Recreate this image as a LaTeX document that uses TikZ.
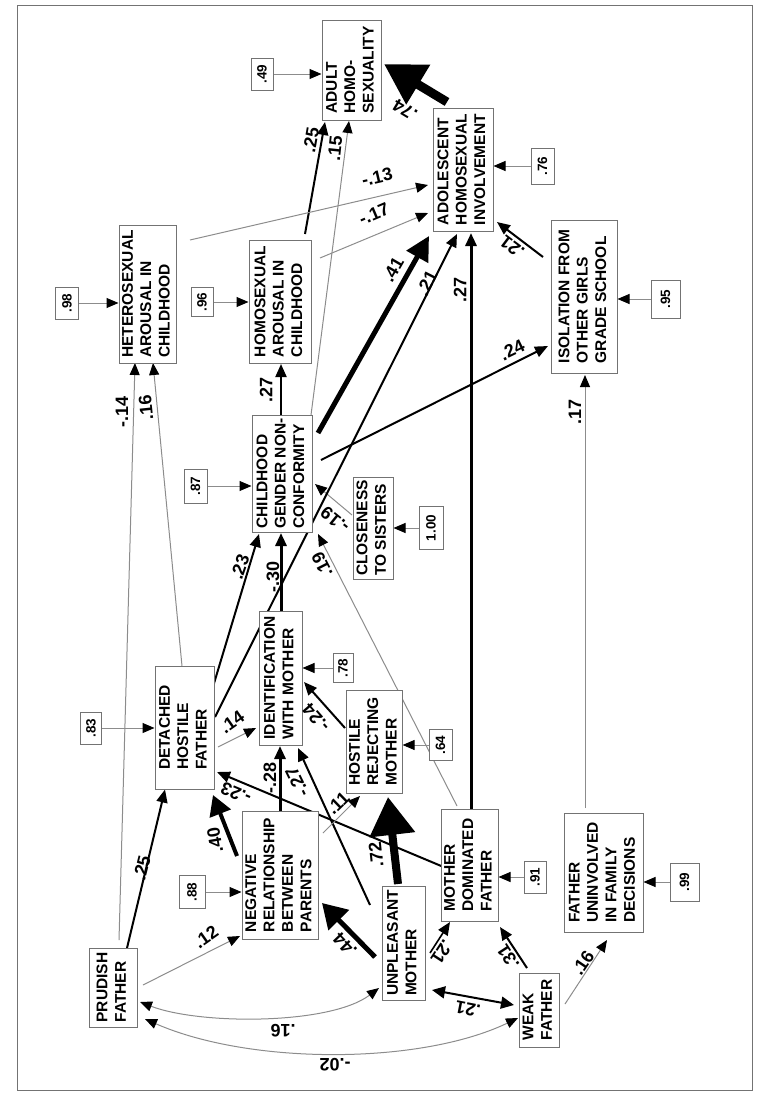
\documentclass[tikz,border=0pt]{standalone}
\usepackage{fontspec}
\setmainfont{Liberation Sans}
\usepackage{graphicx}
\usetikzlibrary{arrows.meta,calc}
\pgfdeclarelayer{bg}
\pgfsetlayers{bg,main}
\definecolor{boxgray}{gray}{0.45}
\definecolor{linegray}{gray}{0.55}
\newcommand{\rtxt}[1]{\rotatebox{90}{\begin{tabular}{@{}l@{}}#1\end{tabular}}}
\tikzset{
  box/.style={draw=boxgray, line width=0.5pt, fill=white, inner sep=0pt,
    font=\fontsize{7.75}{9.2}\selectfont\bfseries},
  errbox/.style={draw=boxgray, line width=0.5pt, fill=white, inner sep=0pt,
    font=\fontsize{6.75}{8}\selectfont\bfseries},
  lab/.style={font=\fontsize{9}{10}\selectfont\bfseries, inner sep=0pt},
  gline/.style={draw=linegray, line width=0.5pt, -{Triangle[length=6pt,width=5pt,color=black]}},
  gdouble/.style={draw=linegray, line width=0.5pt, {Triangle[length=6pt,width=5pt,color=black]}-{Triangle[length=6pt,width=5pt,color=black]}},
  bline/.style={draw=black, line width=1pt, -{Triangle[length=6.5pt,width=5.5pt]}},
  bdouble/.style={draw=black, line width=1pt, {Triangle[length=6.5pt,width=6pt]}-{Triangle[length=6.5pt,width=6pt]}},
}
\begin{document}
\begin{tikzpicture}[x=0.5pt,y=-0.5pt]
\useasboundingbox (0,0) rectangle (767,1098);
\draw[boxgray, line width=0.5pt] (17,5) rectangle (752,1090);

% main boxes
\node[box, minimum width=24pt, minimum height=39.5pt] (pf) at (113,987.5) {\rtxt{PRUDISH\\FATHER}};
\node[box, minimum width=38pt, minimum height=64pt] (nr) at (280,875) {\rtxt{NEGATIVE\\RELATIONSHIP\\BETWEEN\\PARENTS}};
\node[box, minimum width=21.5pt, minimum height=57pt] (um) at (403.5,943) {\rtxt{UNPLEASANT\\MOTHER}};
\node[box, minimum width=28.5pt, minimum height=56pt] (mdf) at (469.5,865) {\rtxt{MOTHER\\DOMINATED\\FATHER}};
\node[box, minimum width=20pt, minimum height=37pt] (wf) at (539,1010) {\rtxt{WEAK\\FATHER}};
\node[box, minimum width=39.5pt, minimum height=59.5pt] (fu) at (603.5,872.5) {\rtxt{FATHER\\UNINVOLVED\\IN FAMILY\\DECISIONS}};
\node[box, minimum width=29.5pt, minimum height=61.5pt] (dhf) at (184.5,727.5) {\rtxt{DETACHED\\HOSTILE\\FATHER}};
\node[box, minimum width=21.5pt, minimum height=67pt] (idm) at (280.5,678) {\rtxt{IDENTIFICATION\\WITH MOTHER}};
\node[box, minimum width=27.5pt, minimum height=51.5pt] (hrm) at (374.5,741.5) {\rtxt{HOSTILE\\REJECTING\\MOTHER}};
\node[box, minimum width=30pt, minimum height=58.5pt] (cgn) at (282,473.5) {\rtxt{CHILDHOOD\\GENDER NON-\\CONFORMITY}};
\node[box, minimum width=20pt, minimum height=51pt] (cs) at (373,528) {\rtxt{CLOSENESS\\TO SISTERS}};
\node[box, minimum width=28.5pt, minimum height=69pt] (ha) at (147.5,294) {\rtxt{HETEROSEXUAL\\AROUSAL IN\\CHILDHOOD}};
\node[box, minimum width=31pt, minimum height=61.5pt] (hoa) at (280,301.5) {\rtxt{HOMOSEXUAL\\AROUSAL IN\\CHILDHOOD}};
\node[box, minimum width=29.5pt, minimum height=50pt] (ah) at (351.5,70) {\rtxt{ADULT\\HOMO-\\SEXUALITY}};
\node[box, minimum width=30pt, minimum height=61.5pt] (ahi) at (463,169.5) {\rtxt{ADOLESCENT\\HOMOSEXUAL\\INVOLVEMENT}};
\node[box, minimum width=33pt, minimum height=76.5pt] (iso) at (584,296.5) {\rtxt{ISOLATION FROM\\OTHER GIRLS\\GRADE SCHOOL}};

% error boxes
\node[errbox, minimum width=10.5pt, minimum height=16pt] (e83) at (91,728) {\rotatebox{90}{.83}};
\node[errbox, minimum width=13pt, minimum height=16.5pt] (e88) at (192,892) {\rotatebox{90}{.88}};
\node[errbox, minimum width=11.5pt, minimum height=17pt] (e87) at (195.5,486) {\rotatebox{90}{.87}};
\node[errbox, minimum width=11.5pt, minimum height=16pt] (e98) at (67,303) {\rotatebox{90}{.98}};
\node[errbox, minimum width=11pt, minimum height=14.5pt] (e96) at (202,302) {\rotatebox{90}{.96}};
\node[errbox, minimum width=11pt, minimum height=16pt] (e49) at (262,74) {\rotatebox{90}{.49}};
\node[errbox, minimum width=11.5pt, minimum height=18pt] (e76) at (542.5,166) {\rotatebox{90}{.76}};
\node[errbox, minimum width=14.5pt, minimum height=19pt] (e95) at (665.5,299) {\rotatebox{90}{.95}};
\node[errbox, minimum width=10pt, minimum height=14.5pt] (e78) at (343,668) {\rotatebox{90}{.78}};
\node[errbox, minimum width=11.5pt, minimum height=15.5pt] (e64) at (440.5,745) {\rotatebox{90}{.64}};
\node[errbox, minimum width=11pt, minimum height=16pt] (e91) at (535,877) {\rotatebox{90}{.91}};
\node[errbox, minimum width=14.5pt, minimum height=19pt] (e99) at (684.5,882) {\rotatebox{90}{.99}};
\node[errbox, minimum width=12pt, minimum height=21.5pt] (e100) at (431,528) {\rotatebox{90}{1.00}};

\begin{pgfonlayer}{bg}
% error arrows
\draw[gline] (e83.east) -- (e83.east -| dhf.west);
\draw[gline] (e88.east) -- (e88.east -| nr.west);
\draw[gline] (e87.east) -- (e87.east -| cgn.west);
\draw[gline] (e98.east) -- (e98.east -| ha.west);
\draw[gline] (e96.east) -- (e96.east -| hoa.west);
\draw[gline] (e49.east) -- (e49.east -| ah.west);
\draw[gline] (e76.west) -- (e76.west -| ahi.east);
\draw[gline] (e95.west) -- (e95.west -| iso.east);
\draw[gline] (e78.west) -- (e78.west -| idm.east);
\draw[gline] (e64.west) -- (e64.west -| hrm.east);
\draw[gline] (e91.west) -- (e91.west -| mdf.east);
\draw[gline] (e99.west) -- (e99.west -| fu.east);
\draw[gline] (e100.west) -- (e100.west -| cs.east);

% paths
\draw[bline] ($(pf)+(14,-39.5)$) -- ($(dhf)+(-19.5,62)$);
\draw[gline] ($(pf)+(30,-2.5)$) -- ($(nr)+(-40,61)$);
\draw[gline] ($(pf)+(6,-47.5)$) -- ($(ha)+(-12.5,69)$);
\draw[gline] ($(dhf)+(-2.5,-61.5)$) -- ($(ha)+(5.5,69)$);
\draw[gdouble] ($(pf)+(27,14.5)$) .. controls (200,1025) and (330,1025) .. ($(um)+(-24.5,45)$);
\draw[gdouble] ($(pf)+(32,31.5)$) .. controls (250,1065) and (420,1065) .. ($(wf)+(-21,8)$);
\draw[black, line width=2.5pt, -{Triangle[length=12pt,width=14pt]}] ($(um)+(-28.5,14)$) -- ($(nr)+(42,28)$);
\draw[black, line width=4pt, -{Triangle[length=19pt,width=22pt]}] ($(um)+(-5.5,-59)$) -- ($(hrm)+(13.5,55.5)$);
\draw[bline] ($(um)+(-33.5,-38)$) -- ($(idm)+(17.5,70)$);
\draw[bline, line width=0.8pt] ($(um)+(26.5,10)$) -- ($(mdf)+(-19.5,57)$);
\draw[bdouble] ($(um)+(28.5,47)$) -- ($(wf)+(-25,-5)$);
\draw[bline] ($(wf)+(-12,-42)$) -- ($(mdf)+(30.5,62)$);
\draw[gline] ($(wf)+(26,-6)$) -- ($(fu)+(3.5,67.5)$);
\draw[gline] ($(fu)+(-18.5,-64.5)$) -- ($(iso)+(1,78.5)$);
\draw[bline, line width=1.5pt] ($(mdf)+(1.5,-56)$) -- ($(ahi)+(8,63.5)$);
\draw[gline] ($(mdf)+(-12.5,-59)$) -- ($(cgn)+(36,60.5)$);
\draw[bline] ($(mdf)+(-23.5,3)$) -- ($(dhf)+(32.5,44.5)$);
\draw[gline] ($(cs)+(-21,-13)$) -- ($(cgn)+(33,10.5)$);
\draw[black, line width=2pt, -{Triangle[length=10pt,width=11pt]}] ($(nr)+(-43,-19)$) -- ($(dhf)+(28.5,67.5)$);
\draw[bline, line width=1.5pt] ($(nr)+(0,-64)$) -- ($(idm)+(-0.5,68)$);
\draw[gline] ($(nr)+(43,-42)$) -- ($(hrm)+(-14.5,54.5)$);
\draw[gline] ($(dhf)+(33.5,19.5)$) -- ($(idm)+(-24.5,50)$);
\draw[bline] ($(dhf)+(27.5,-37.5)$) -- ($(cgn)+(-23,60.5)$);
\draw[bline] ($(dhf)+(30.5,-10.5)$) -- ($(ahi)+(-6,64.5)$);
\draw[bline, line width=1.5pt] ($(idm)+(0.5,-67)$) -- ($(cgn)+(-1,59.5)$);
\draw[bline] ($(hrm)+(-29.5,-13.5)$) -- ($(idm)+(23.5,4)$);
\draw[bline] ($(cgn)+(-1,-58.5)$) -- ($(hoa)+(1,62.5)$);
\draw[black, line width=2.5pt, -{Triangle[length=12pt,width=12pt]}] ($(cgn)+(36,-40.5)$) -- ($(ahi)+(-34,66.5)$);
\draw[bline] ($(cgn)+(39,-13.5)$) -- ($(iso)+(-36,49.5)$);
\draw[gline] ($(cgn)+(29,-58.5)$) -- ($(ah)+(-2.5,51)$);
\draw[bline] ($(hoa)+(25,-67.5)$) -- ($(ah)+(-26.5,52)$);
\draw[gline] ($(hoa)+(40,-43.5)$) -- ($(ahi)+(-35,43.5)$);
\draw[gline] ($(ha)+(42.5,-54)$) -- ($(ahi)+(-35,15.5)$);
\draw[black, line width=4.5pt, -{Triangle[length=20pt,width=22pt]}] ($(ahi)+(-16,-67.5)$) -- ($(ah)+(32.5,-6)$);
\draw[bline] ($(iso)+(-41,-39.5)$) -- ($(ahi)+(34,52.5)$);
\end{pgfonlayer}

% coefficient labels
\node[lab, rotate=76] (l1) at (142,868) {.25};
\node[lab, rotate=35] (l2) at (206,937) {.12};
\node[lab, rotate=90] (l3) at (122,412) {-.14};
\node[lab, rotate=96] (l4) at (146,408) {.16};
\node[lab, rotate=180] (l5) at (283,1031) {.16};
\node[lab, rotate=180] (l6) at (335,1065) {-.02};
\node[lab, rotate=134] (l7) at (345,945) {.44};
\node[lab, rotate=96] (l8) at (376,855) {.72};
\node[lab, rotate=116] (l9) at (297,782) {-.27};
\node[lab, rotate=-123] (l10) at (442,952) {.21};
\node[lab, rotate=169] (l11) at (468,1009) {.21};
\node[lab, rotate=123] (l12) at (508,957) {.31};
\node[lab, rotate=56] (l13) at (583,963) {.16};
\node[lab, rotate=90] (l14) at (575,412) {.17};
\node[lab, rotate=90] (l15) at (460,290) {.27};
\node[lab, rotate=117] (l16) at (322,565) {.19};
\node[lab, rotate=157] (l17) at (236,793) {-.23};
\node[lab, rotate=141] (l18) at (335,520) {-.19};
\node[lab, rotate=100] (l19) at (215,840) {.40};
\node[lab, rotate=90] (l20) at (270,778) {-.28};
\node[lab, rotate=44] (l21) at (338,803) {.11};
\node[lab, rotate=35] (l22) at (232,722) {.14};
\node[lab, rotate=71] (l23) at (240,567) {.23};
\node[lab, rotate=63] (l24) at (427,283) {.21};
\node[lab, rotate=90] (l25) at (273,577) {-.30};
\node[lab, rotate=131] (l26) at (316,718) {-.24};
\node[lab, rotate=90] (l27) at (266,390) {.27};
\node[lab, rotate=60] (l28) at (393,270) {.41};
\node[lab, rotate=26] (l29) at (512,350) {.24};
\node[lab, rotate=84] (l30) at (335,148) {.15};
\node[lab, rotate=80] (l31) at (311,140) {.25};
\node[lab, rotate=23] (l32) at (374,214) {-.17};
\node[lab, rotate=13] (l33) at (377,177) {-.13};
\node[lab, rotate=149] (l34) at (405,110) {.74};
\node[lab, rotate=143] (l35) at (512,247) {.21};
\end{tikzpicture}
\end{document}
